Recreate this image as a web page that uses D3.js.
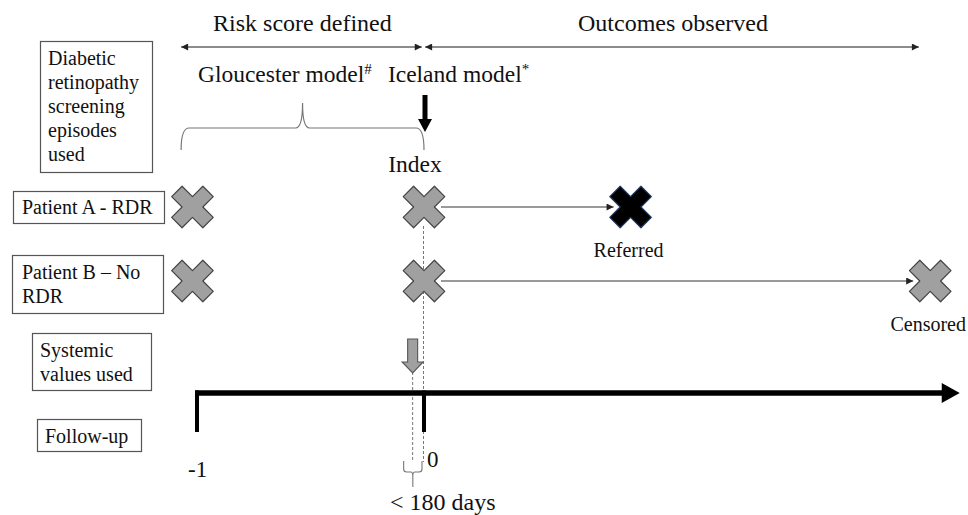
<!DOCTYPE html>
<html>
<head>
<meta charset="utf-8">
<script src="https://cdn.jsdelivr.net/npm/d3@7"></script>
<style>
  body { margin: 0; background: #fff; }
  svg { font-family: "Liberation Serif", "DejaVu Serif", serif; }
</style>
</head>
<body>
<div id="chart"></div>
<script>
// time in years relative to index date
var periods = [
  { label: "Risk score defined", from: -1.07, to: -0.01 },
  { label: "Outcomes observed", from: 0.005, to: 2.18 }
];
var models = [
  { name: "Gloucester model", mark: "#", at: -0.996 },
  { name: "Iceland model", mark: "*", at: -0.159 }
];
var rowLabels = [
  ["Diabetic", "retinopathy", "screening", "episodes", "used"],
  ["Patient A - RDR"],
  ["Patient B \u2013 No", "RDR"],
  ["Systemic", "values used"],
  ["Follow-up"]
];
var episodes = [
  { patient: "A", t: -1.02 }, { patient: "A", t: 0 },
  { patient: "B", t: -1.02 }, { patient: "B", t: 0 }
];
var outcomes = [
  { patient: "A", t: 0.91, label: "Referred" },
  { patient: "B", t: 2.23, label: "Censored" }
];
var axisTicks = [-1, 0];
var axisEnd = 2.36;
var systemicAt = -0.05;

var width = 968, height = 515;

var svg = d3.select("#chart").append("svg")
    .attr("width", width)
    .attr("height", height)
    .attr("fill", "#111");

var x = d3.scaleLinear().domain([-1, 0]).range([197, 424]);
var rowY = { A: 207, B: 281 };

// text is set at 16px and scaled up, the serif face only resolves at small sizes here
function label(parent, tx, ty, size, lines, anchor, lh) {
  var s = size / 16;
  var g = parent.append("g")
      .attr("transform", "translate(" + tx + "," + ty + ") scale(" + s + ")");
  var t = g.append("text")
      .attr("text-anchor", anchor || "start")
      .attr("fill", "#111")
      .style("font-size", "16px");
  t.selectAll("tspan.line")
      .data(lines)
      .join("tspan")
      .attr("class", "line")
      .attr("x", 0)
      .attr("dy", function(d, j) { return j === 0 ? 0 : (lh || 24) / s; })
      .text(function(d) { return d; });
  return t;
}

var defs = svg.append("defs");
function marker(id, color, w, h, orient) {
  defs.append("marker")
      .attr("id", id)
      .attr("viewBox", "0 0 10 10")
      .attr("refX", 10).attr("refY", 5)
      .attr("markerUnits", "userSpaceOnUse")
      .attr("markerWidth", w).attr("markerHeight", h)
      .attr("orient", orient)
    .append("path")
      .attr("d", "M0,0L10,5L0,10z")
      .attr("fill", color);
}
marker("head", "#222", 9, 7, "auto");
marker("headStart", "#222", 9, 7, "auto-start-reverse");

// left boxes
var boxes = [
  { x: 40, y: 41, w: 112, h: 131, tx: 48, ty: 65 },
  { x: 13, y: 191, w: 151, h: 32, tx: 22, ty: 214 },
  { x: 12, y: 255, w: 151, h: 58, tx: 22, ty: 279 },
  { x: 32, y: 333, w: 119, h: 57, tx: 40, ty: 357 },
  { x: 37, y: 419, w: 104, h: 32, tx: 45, ty: 443 }
];
var lbl = svg.append("g").selectAll("g")
    .data(rowLabels)
    .join("g");
lbl.append("rect")
    .attr("x", function(d, i) { return boxes[i].x + 0.5; })
    .attr("y", function(d, i) { return boxes[i].y + 0.5; })
    .attr("width", function(d, i) { return boxes[i].w; })
    .attr("height", function(d, i) { return boxes[i].h; })
    .attr("fill", "#fff")
    .attr("stroke", "#555")
    .attr("stroke-width", 1.2);
lbl.each(function(lines, i) {
  label(d3.select(this), boxes[i].tx, boxes[i].ty, 20, lines, "start", 24);
});

// period arrows on top
var per = svg.append("g").selectAll("g").data(periods).join("g");
per.append("line")
    .attr("x1", function(d) { return x(d.from); })
    .attr("x2", function(d) { return x(d.to); })
    .attr("y1", 47).attr("y2", 47)
    .attr("stroke", "#666")
    .attr("stroke-width", 1.3)
    .attr("marker-start", "url(#headStart)")
    .attr("marker-end", "url(#head)");
per.each(function(d) {
  label(d3.select(this), (x(d.from) + x(d.to)) / 2 + 1, 31, 24, [d.label], "middle");
});

// model names
var mg = svg.append("g");
models.forEach(function(d) {
  var t = label(mg, x(d.at), 82, 23.5, [d.name], "start");
  t.append("tspan")
      .attr("dy", -8 * 16 / 23.5)
      .style("font-size", (15 * 16 / 23.5) + "px")
      .text(d.mark);
});

// brace over the screening episodes
var b0 = x(-1.07), b1 = x(0), bm = (b0 + b1) / 2;
svg.append("path")
    .attr("d", "M" + b0 + ",150 Q" + b0 + ",128 " + (b0 + 8) + ",128 L" + (bm - 7) + ",128 Q" + bm + ",128 " + bm + ",103" +
               " Q" + bm + ",128 " + (bm + 7) + ",128 L" + (b1 - 8) + ",128 Q" + b1 + ",128 " + b1 + ",150")
    .attr("fill", "none")
    .attr("stroke", "#777")
    .attr("stroke-width", 1.2);

// black index arrow
var ix = x(0) + 1;
svg.append("path")
    .attr("d", "M" + (ix - 2.5) + ",95 L" + (ix + 2.5) + ",95 L" + (ix + 2.5) + ",119 L" + (ix + 7) + ",119 L" + ix + ",132 L" + (ix - 7) + ",119 L" + (ix - 2.5) + ",119Z")
    .attr("fill", "#000");

label(svg, x(0) - 9, 172, 23.5, ["Index"], "middle");

// dashed guides
svg.append("line")
    .attr("x1", x(0) - 0.5).attr("x2", x(0) - 0.5)
    .attr("y1", 226).attr("y2", 462)
    .attr("stroke", "#777").attr("stroke-width", 1)
    .attr("stroke-dasharray", "3,2");
svg.append("line")
    .attr("x1", x(systemicAt)).attr("x2", x(systemicAt))
    .attr("y1", 372).attr("y2", 462)
    .attr("stroke", "#777").attr("stroke-width", 1)
    .attr("stroke-dasharray", "3,2");

// follow-up lines for each patient
svg.append("g").selectAll("line").data(outcomes).join("line")
    .attr("x1", x(0) + 17)
    .attr("x2", function(d) { return x(d.t) - 17; })
    .attr("y1", function(d) { return rowY[d.patient]; })
    .attr("y2", function(d) { return rowY[d.patient]; })
    .attr("stroke", "#777")
    .attr("stroke-width", 1.3)
    .attr("marker-end", "url(#head)");

var cross = d3.symbol(d3.symbolCross).size(1080);

svg.append("g").selectAll("path").data(episodes).join("path")
    .attr("d", cross)
    .attr("transform", function(d) { return "translate(" + x(d.t) + "," + rowY[d.patient] + ") rotate(45)"; })
    .attr("fill", "#a0a0a0")
    .attr("stroke", "#444")
    .attr("stroke-width", 1.2)
    .attr("stroke-linejoin", "round");

var oc = svg.append("g").selectAll("g").data(outcomes).join("g");
oc.append("path")
    .attr("d", cross)
    .attr("transform", function(d) { return "translate(" + x(d.t) + "," + rowY[d.patient] + ") rotate(45)"; })
    .attr("fill", function(d) { return d.label === "Referred" ? "#000" : "#a0a0a0"; })
    .attr("stroke", function(d) { return d.label === "Referred" ? "#1f3864" : "#444"; })
    .attr("stroke-width", 1.2)
    .attr("stroke-linejoin", "round");
oc.each(function(d) {
  label(d3.select(this), x(d.t) - 2, rowY[d.patient] + 50, 20, [d.label], "middle");
});

// grey arrow for systemic values
var sx = x(systemicAt);
svg.append("path")
    .attr("d", "M" + (sx - 5) + ",339 L" + (sx + 5) + ",339 L" + (sx + 5) + ",362 L" + (sx + 10.5) + ",362 L" + sx + ",373 L" + (sx - 10.5) + ",362 L" + (sx - 5) + ",362Z")
    .attr("fill", "#a0a0a0")
    .attr("stroke", "#555")
    .attr("stroke-width", 1.1);

// follow-up axis
var ay = 393;
svg.append("line")
    .attr("x1", x(-1) - 2).attr("x2", x(axisEnd) - 14)
    .attr("y1", ay).attr("y2", ay)
    .attr("stroke", "#000").attr("stroke-width", 5.5);
svg.append("path")
    .attr("d", "M" + (x(axisEnd) - 18) + "," + (ay - 10) + " L" + x(axisEnd) + "," + ay + " L" + (x(axisEnd) - 18) + "," + (ay + 10) + "Z")
    .attr("fill", "#000");
svg.append("g").selectAll("line").data(axisTicks).join("line")
    .attr("x1", function(d) { return x(d); })
    .attr("x2", function(d) { return x(d); })
    .attr("y1", ay - 2.5).attr("y2", 432)
    .attr("stroke", "#000").attr("stroke-width", 4);
var tg = svg.append("g");
axisTicks.forEach(function(d) {
  label(tg, d === -1 ? x(d) - 9 : x(d) + 3, d === -1 ? 477 : 467, 23,
        [d3.format("")(d).replace("\u2212", "-")], "start");
});

// small brace for the 180 day window
var s0 = x(systemicAt) - 9, s1 = x(0) - 2, smid = (s0 + s1) / 2;
svg.append("path")
    .attr("d", "M" + s0 + ",461 L" + s0 + ",469 Q" + s0 + ",472 " + (s0 + 3) + ",472 L" + (smid - 2) + ",472 Q" + smid + ",472 " + smid + ",476 L" + smid + ",487" +
               " M" + smid + ",476 Q" + smid + ",472 " + (smid + 2) + ",472 L" + (s1 - 3) + ",472 Q" + s1 + ",472 " + s1 + ",469 L" + s1 + ",461")
    .attr("fill", "none")
    .attr("stroke", "#777")
    .attr("stroke-width", 1.1);
label(svg, smid + 30, 510, 24, ["< 180 days"], "middle");
</script>
</body>
</html>
